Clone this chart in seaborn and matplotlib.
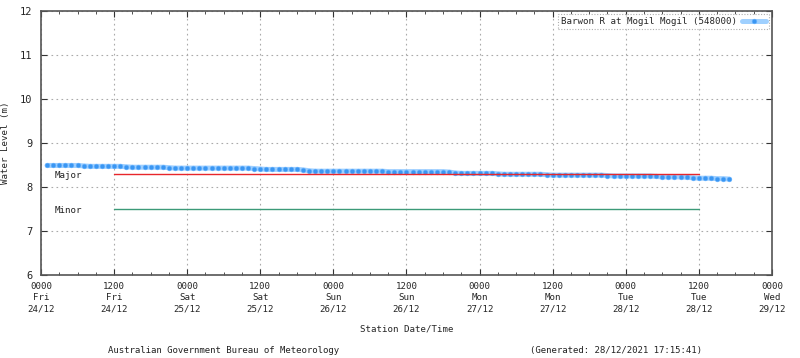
import matplotlib
matplotlib.use("Agg")
import matplotlib.pyplot as plt
import seaborn as sns
import pandas as pd

# Hours since 0000 Fri 24/12
hours = list(range(1, 114))
levels = [
    8.49, 8.49, 8.49, 8.49, 8.49, 8.49, 8.48, 8.47, 8.47, 8.47,   # 1-10
    8.47, 8.47, 8.47, 8.46, 8.45, 8.45, 8.45, 8.45, 8.45, 8.45,   # 11-20
    8.44, 8.43, 8.43, 8.43, 8.43, 8.43, 8.43, 8.43, 8.43, 8.43,   # 21-30
    8.43, 8.43, 8.43, 8.43, 8.42, 8.41, 8.40, 8.40, 8.40, 8.40,   # 31-40
    8.40, 8.40, 8.39, 8.37, 8.36, 8.36, 8.36, 8.36, 8.36, 8.36,   # 41-50
    8.36, 8.36, 8.36, 8.36, 8.36, 8.36, 8.35, 8.35, 8.35, 8.35,   # 51-60
    8.35, 8.35, 8.35, 8.35, 8.35, 8.35, 8.34, 8.32, 8.31, 8.31,   # 61-70
    8.31, 8.31, 8.31, 8.31, 8.30, 8.29, 8.29, 8.29, 8.29, 8.29,   # 71-80
    8.29, 8.29, 8.28, 8.27, 8.27, 8.27, 8.27, 8.27, 8.27, 8.27,   # 81-90
    8.27, 8.27, 8.26, 8.25, 8.25, 8.25, 8.25, 8.25, 8.25, 8.25,   # 91-100
    8.24, 8.23, 8.23, 8.23, 8.23, 8.22, 8.21, 8.20, 8.20, 8.20,   # 101-110
    8.19, 8.19, 8.18,                                             # 111-113
]
series_name = "Barwon R at Mogil Mogil (548000)"

flood_names = ["Major", "Minor"]
flood_levels = [8.3, 7.5]
flood_colors = ["#e8262b", "#3c9a78"]
flood_start, flood_end = 12, 108

tick_hours = list(range(0, 121, 12))
tick_labels = [
    "0000\nFri\n24/12", "1200\nFri\n24/12", "0000\nSat\n25/12", "1200\nSat\n25/12",
    "0000\nSun\n26/12", "1200\nSun\n26/12", "0000\nMon\n27/12", "1200\nMon\n27/12",
    "0000\nTue\n28/12", "1200\nTue\n28/12", "0000\nWed\n29/12",
]

sns.set_style("white")
plt.rcParams["font.family"] = ["DejaVu Sans Mono"]
plt.rcParams["font.size"] = 6.5

fig = plt.figure(figsize=(8, 3.58), dpi=100)
ax = fig.add_axes([0.05125, 0.232, 0.9137, 0.737])

# flood lines (drawn over the data, as in the reference)
for name, lv, col in zip(flood_names, flood_levels, flood_colors):
    ax.plot([flood_start, flood_end], [lv, lv], color=col, lw=1.0, zorder=4)
    ax.text(2.2, lv - 0.03, name, ha="left", va="center", fontsize=6.6, color="#222222")

df = pd.DataFrame({"hour": hours, "level": levels})
sns.lineplot(data=df, x="hour", y="level", ax=ax, color="#9fd0ff", lw=3.6,
             marker="o", markersize=3.4, markerfacecolor="#3a96f2",
             markeredgecolor="#6ab4ff", markeredgewidth=0.4,
             label=series_name, zorder=3)

ax.set_xlim(0, 120)
ax.set_ylim(6, 12)
ax.set_xticks(tick_hours)
ax.set_xticklabels(tick_labels, fontsize=6.6, linespacing=1.35)
ax.set_xticks(list(range(0, 121, 3)), minor=True)
ax.set_yticks(range(6, 13))
ax.set_yticklabels([str(v) for v in range(6, 13)], fontsize=7.5)

ax.tick_params(axis="both", which="major", direction="in", length=4, width=0.8,
               color="#333333", top=True, right=True, left=True, bottom=True, pad=6)
ax.tick_params(axis="x", which="minor", direction="in", length=2, width=0.6,
               color="#333333", top=True, bottom=True)
ax.tick_params(axis="x", which="major", pad=5)

ax.grid(True, which="major", linestyle=(0, (1.5, 3)), color="#aaaaaa", lw=0.8)
for s in ax.spines.values():
    s.set_visible(True)
    s.set_color("#555555")
    s.set_linewidth(1.2)

ax.set_xlabel("Station Date/Time", fontsize=6.6, labelpad=8)
ax.set_ylabel("Water Level (m)", fontsize=6.6, labelpad=7)

leg = ax.legend(loc="upper right", fontsize=6.6, frameon=True, fancybox=False,
                handlelength=2.6, borderpad=0.3, borderaxespad=0.35, handletextpad=0.6,
                markerfirst=False)
leg.get_frame().set_edgecolor("#999999")
leg.get_frame().set_linestyle((0, (1, 1.5)))
leg.get_frame().set_linewidth(0.8)

fig.text(0.28, 0.022, "Australian Government Bureau of Meteorology", ha="center", va="center",
         fontsize=6.5, color="#222222")
fig.text(0.77, 0.022, "(Generated: 28/12/2021 17:15:41)", ha="center", va="center",
         fontsize=6.5, color="#222222")

fig.savefig("out.png", dpi=100)
